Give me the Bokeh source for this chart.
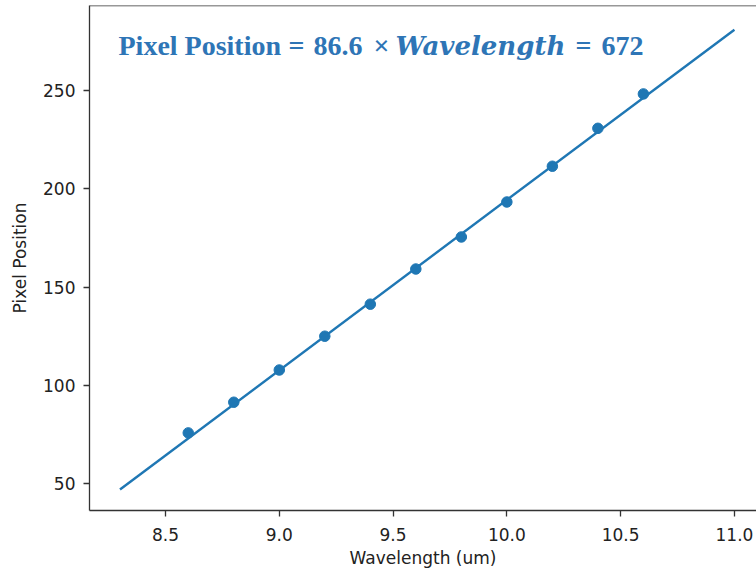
from bokeh.plotting import figure
from bokeh.models import Range1d, Label, Span, FixedTicker
from bokeh.embed import file_html
from bokeh.resources import INLINE

# ---- data ----
wavelength = [8.6, 8.8, 9.0, 9.2, 9.4, 9.6, 9.8, 10.0, 10.2, 10.4, 10.6]
pixel_pos = [75.8, 91.4, 107.8, 125.0, 141.3, 159.2, 175.5, 193.3, 211.5, 230.8, 248.3]
fit_x = [8.3, 11.0]
fit_y = [47.0, 281.0]
x_ticks = [8.5, 9.0, 9.5, 10.0, 10.5, 11.0]
y_ticks = [50, 100, 150, 200, 250]
eq_parts = ["Pixel Position", "=", "86.6", "\u00d7", "Wavelength", "=", "672"]

# ---- layout ----
W, H = 756, 571
FRAME_LEFT_PX, FRAME_TOP_PX, FRAME_BOTTOM_PX, FRAME_RIGHT_PX = 89, 5, 510, 756
X0, X1 = 8.166, 11.097
Y0, Y1 = 36.3, 293.3

BLUE = "#1f77b4"
TEXT = "#222222"
EQ_BLUE = "#2E75B6"


def sx(px):
    return X0 + (px - FRAME_LEFT_PX) * (X1 - X0) / (FRAME_RIGHT_PX - FRAME_LEFT_PX)


def sy(py):
    return Y1 - (py - FRAME_TOP_PX) * (Y1 - Y0) / (FRAME_BOTTOM_PX - FRAME_TOP_PX)


p = figure(width=W, height=H, output_backend="svg", toolbar_location=None,
           x_range=Range1d(X0, X1), y_range=Range1d(Y0, Y1),
           min_border_left=FRAME_LEFT_PX, min_border_right=0,
           min_border_top=FRAME_TOP_PX, min_border_bottom=H - FRAME_BOTTOM_PX)

p.outline_line_color = None
p.grid.grid_line_color = None
p.background_fill_color = "white"
p.border_fill_color = "white"

for ax in (p.xaxis[0], p.yaxis[0]):
    ax.axis_line_color = "#333333"
    ax.axis_line_width = 1.3
    ax.major_tick_line_color = "#333333"
    ax.major_tick_line_width = 1.3
    ax.major_tick_out = 6
    ax.major_tick_in = 0
    ax.minor_tick_line_color = None
    ax.major_label_text_font = "DejaVu Sans"
    ax.major_label_text_font_size = "17px"
    ax.major_label_text_color = TEXT
    ax.axis_label_text_font = "DejaVu Sans"
    ax.axis_label_text_font_size = "17px"
    ax.axis_label_text_font_style = "normal"
    ax.axis_label_text_color = TEXT

p.xaxis[0].ticker = FixedTicker(ticks=x_ticks)
p.yaxis[0].ticker = FixedTicker(ticks=y_ticks)
p.xaxis[0].major_label_overrides = {t: f"{t:.1f}" for t in x_ticks}
p.xaxis[0].axis_label = "Wavelength (um)"
p.yaxis[0].axis_label = "Pixel Position"
p.xaxis[0].major_label_standoff = 11
p.xaxis[0].axis_label_standoff = 4
p.yaxis[0].major_label_standoff = 8
p.yaxis[0].axis_label_standoff = 10

# top spine
p.add_layout(Span(location=Y1, dimension="width", line_color="#333333", line_width=1.3))

p.scatter(wavelength, pixel_pos, size=10.5, color=BLUE)
p.line(fit_x, fit_y, line_width=2.4, color=BLUE)

# equation annotation, pieced together
eq_x_px = [118, 288, 313, 373, 395, 575, 601]
eq_font = ["Liberation Serif", "Liberation Serif", "Liberation Serif", "Liberation Serif",
           "DejaVu Serif", "Liberation Serif", "Liberation Serif"]
eq_style = ["bold", "bold", "bold", "bold", "bold italic", "bold", "bold"]
eq_size = ["28px", "28px", "28px", "28px", "26px", "28px", "28px"]
for txt, xp, f, st, sz in zip(eq_parts, eq_x_px, eq_font, eq_style, eq_size):
    p.add_layout(Label(x=sx(xp), y=sy(45), text=txt, text_font=f,
                       text_font_style=st, text_font_size=sz,
                       text_color=EQ_BLUE, text_baseline="alphabetic",
                       text_align="left"))

open("out.html", "w").write(file_html(p, INLINE))
